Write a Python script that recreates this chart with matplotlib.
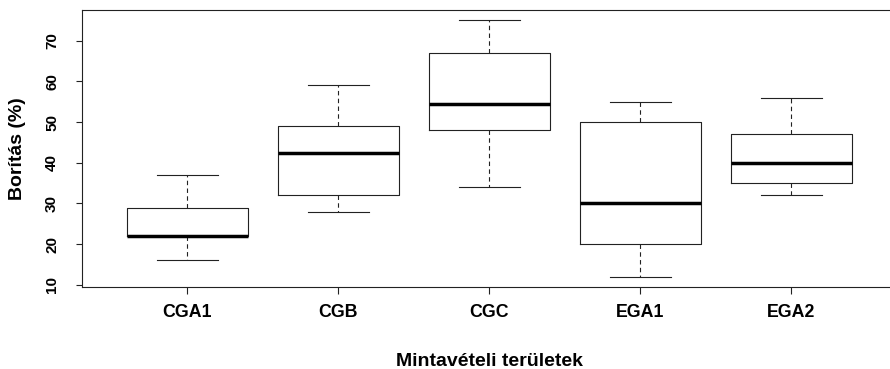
import matplotlib
matplotlib.use("Agg")
import matplotlib.pyplot as plt

sites = ["CGA1", "CGB", "CGC", "EGA1", "EGA2"]
whislo = [16, 28, 34, 12, 32]
q1 = [22, 32, 48, 20, 35]
med = [22, 42.5, 54.5, 30, 40]
q3 = [29, 49, 67, 50, 47]
whishi = [37, 59, 75, 55, 56]
yticks = [10, 20, 30, 40, 50, 60, 70]

plt.rcParams['font.family'] = ['Liberation Sans', 'DejaVu Sans']
plt.rcParams['font.weight'] = 'bold'

stats = [dict(label=s, whislo=a, q1=b, med=c, q3=d, whishi=e)
         for s, a, b, c, d, e in zip(sites, whislo, q1, med, q3, whishi)]

col = '#222222'
fig = plt.figure(figsize=(8.9, 3.69), dpi=100)
ax = fig.add_axes([81.7 / 890, 82 / 369, 815.3 / 890, 277 / 369])

ax.bxp(stats, positions=range(1, 6), widths=0.8, showfliers=False,
       boxprops=dict(color=col, lw=0.8),
       medianprops=dict(color='black', lw=2.5, solid_capstyle='butt'),
       whiskerprops=dict(color=col, lw=0.8, linestyle=(0, (4, 3))),
       capprops=dict(color=col, lw=0.8))

ax.set_xlim(0.3, 5.7)
ax.set_ylim(9.48, 77.52)
ax.set_yticks(yticks)
ax.set_xticks(range(1, 6))
ax.set_xticklabels(sites, fontsize=12.8, fontweight='bold')
for sp in ax.spines.values():
    sp.set_color(col)
    sp.set_linewidth(0.8)

ax.tick_params(axis='x', length=5, width=0.8, color=col, pad=7)
ax.tick_params(axis='y', length=4.3, width=0.8, color=col, pad=12,
               labelsize=11, labelrotation=90)
for t in ax.get_yticklabels():
    t.set_va('center')
    t.set_fontweight('bold')

ax.set_xlabel("Mintavételi területek", fontsize=14, fontweight='bold', va='baseline')
ax.xaxis.set_label_coords(0.5, (287 - 366) / 277)
ax.set_ylabel("Borítás (%)", fontsize=14, fontweight='bold', va='center')
ax.yaxis.set_label_coords((18 - 81.7) / 815.3, 0.5)

plt.savefig("out.png", dpi=100)
